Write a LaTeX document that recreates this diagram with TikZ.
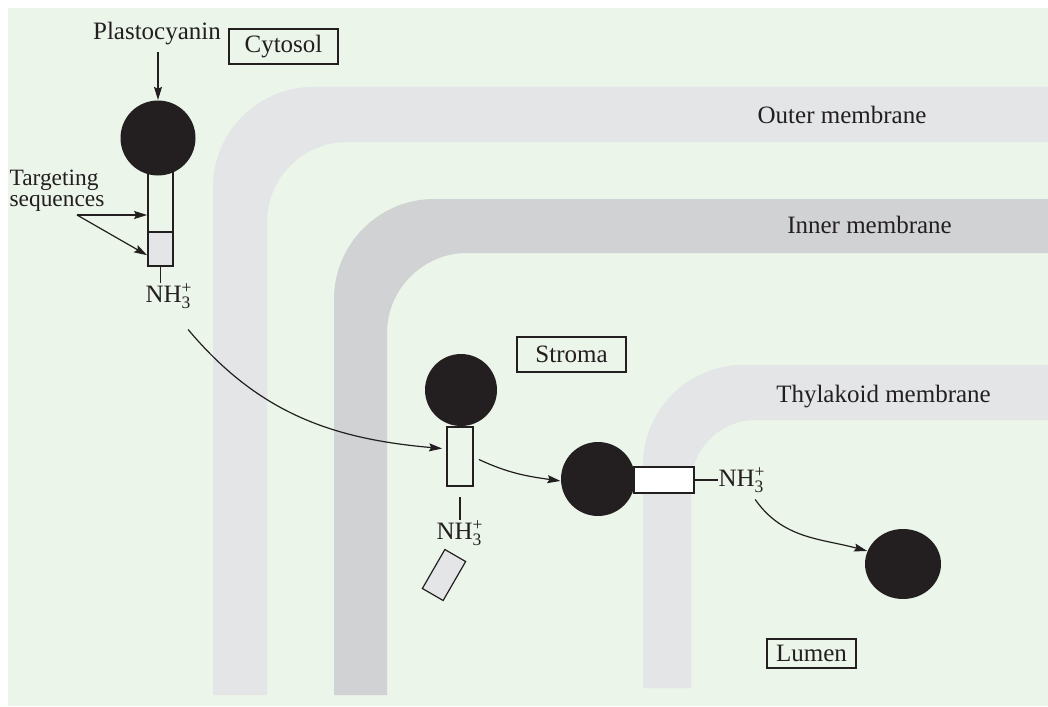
\documentclass[tikz,border=0pt]{standalone}
\usepackage{amsmath}
\usepackage{fontspec}
\setmainfont{Liberation Serif}
\usetikzlibrary{arrows.meta, positioning, shapes.geometric, calc}
\definecolor{cbg}{HTML}{EBF5E9}
\definecolor{cmemlight}{HTML}{E4E5E7}
\definecolor{cmemdark}{HTML}{D1D2D4}
\definecolor{cink}{HTML}{231F20}
\tikzset{
  every picture/.style={line width=0.6pt},
  region/.style={draw=cink, line width=0.9pt, inner sep=0pt, minimum height=17.5pt},
  arrow/.style={-{Stealth[length=6.5pt, width=4pt, inset=1pt]}, draw=cink, line width=0.6pt},
  memtext/.style={anchor=base},
}

\begin{document}
\begin{tikzpicture}[x=0.5pt, y=-0.5pt,
    every node/.append style={font=\fontsize{12.5}{14}\selectfont, text=cink},
    protein/.style={circle, fill=cink, inner sep=0pt, minimum size=37.5pt},
    stem/.style={draw=cink, line width=0.9pt, inner sep=0pt, minimum width=12.5pt},
    amino/.style={inner sep=0pt},
  ]
  \newcommand{\nhthree}{NH$_{\text{3}}^{\text{+}}$}

  % ---- frame
  \fill[white] (0,0) rectangle (1048,706);
  \fill[cbg] (8,8) rectangle (1048,706);

  % ---- membranes
  \fill[cmemlight] (213,695) -- (213,187) .. controls (213,132) and (258,87) .. (313,87)
    -- (1048,87) -- (1048,142) -- (347,142) .. controls (303,142) and (267,178) .. (267,222)
    -- (267,695) -- cycle;
  \fill[cmemdark] (334,695) -- (334,299) .. controls (334,244) and (379,199) .. (434,199)
    -- (1048,199) -- (1048,253) -- (467,253) .. controls (423,253) and (387,289) .. (387,333)
    -- (387,695) -- cycle;
  \fill[cmemlight] (643,688) -- (643,465) .. controls (643,410) and (688,365) .. (743,365)
    -- (1048,365) -- (1048,420) -- (756,420) .. controls (720,420) and (691,449) .. (691,485)
    -- (691,688) -- cycle;

  \node[memtext] (outerlbl) at (842,123) {Outer membrane};
  \node[memtext] (innerlbl) at (869.5,233) {Inner membrane};
  \node[memtext] (thylbl) at (883.5,402) {Thylakoid membrane};

  % ---- compartments
  \node[region, minimum width=54.5pt] (cytosol) at (283.5,46.5) {Cytosol};
  \node[region, minimum width=54.5pt] (stroma) at (571.5,354.5) {Stroma};
  \node[region, minimum width=44.5pt, minimum height=14.5pt] (lumen) at (811.5,653.5) {Lumen};

  % ---- precursor in the cytosol
  \node[memtext] (plasto) at (157,39.5) {Plastocyanin};
  \node[stem, minimum height=31pt] (stem1) at (160.5,201) {};
  \node[stem, fill=cmemlight, minimum height=17pt] (tag1) at (160.5,249) {};
  \node[protein] (pc1) at (158,138) {};
  \node[amino, anchor=base] (nh1) at (169,302) {\nhthree};
  \node[anchor=north west, inner sep=0pt, align=left,
        font=\fontsize{11.7}{10.8}\selectfont] (tseq) at (9,169) {Targeting\\sequences};
  \coordinate (tsfork) at (77,215);

  % ---- in the stroma
  \node[stem, minimum width=13pt, minimum height=29.5pt] (stem2) at (460,456.5) {};
  \node[protein, minimum size=36pt] (pc2) at (461,390) {};
  \node[amino, anchor=base] (nh2) at (460,539) {\nhthree};
  \coordinate (cut) at (460,497);
  \node[draw=cink, fill=cmemlight, inner sep=0pt, minimum width=12pt, minimum height=22.5pt,
        rotate=-30] (cleaved) at (444,575) {};

  % ---- across the thylakoid membrane
  \node[stem, fill=white, minimum width=30pt, minimum height=13pt] (box3) at (664,480) {};
  \node[protein, minimum size=37pt] (pc3) at (598,479) {};
  \node[amino, anchor=base west] (nh3) at (718,486) {\nhthree};

  % ---- in the lumen
  \node[ellipse, fill=cink, inner sep=0pt, minimum width=38pt, minimum height=35pt] (pc4) at (903,564) {};

  % ---- connectors
  \draw[arrow] (plasto.south -| pc1.north) -- (pc1.north);
  \draw[arrow] (tsfork) -- (tsfork -| stem1.west);
  \draw[arrow] (tsfork) -- (tag1.205);
  \draw[cink] (tag1.south) -- (tag1.south |- nh1.north);
  \draw[arrow] ([shift={(-5,20)}]nh1.south east) to[out=-50, in=175] ([shift={(-4,-8)}]stem2.west);
  \draw[cink] (cut) -- (cut |- nh2.north);
  \draw[arrow] ([shift={(5,3)}]stem2.east) to[out=-25, in=172] (pc3.183);
  \draw[cink] (box3.east) -- (nh3.west |- box3.east);
  \draw[arrow] ([shift={(-11,6)}]nh3.south east) to[out=-55, in=165] (pc4.160);
\end{tikzpicture}
\end{document}
